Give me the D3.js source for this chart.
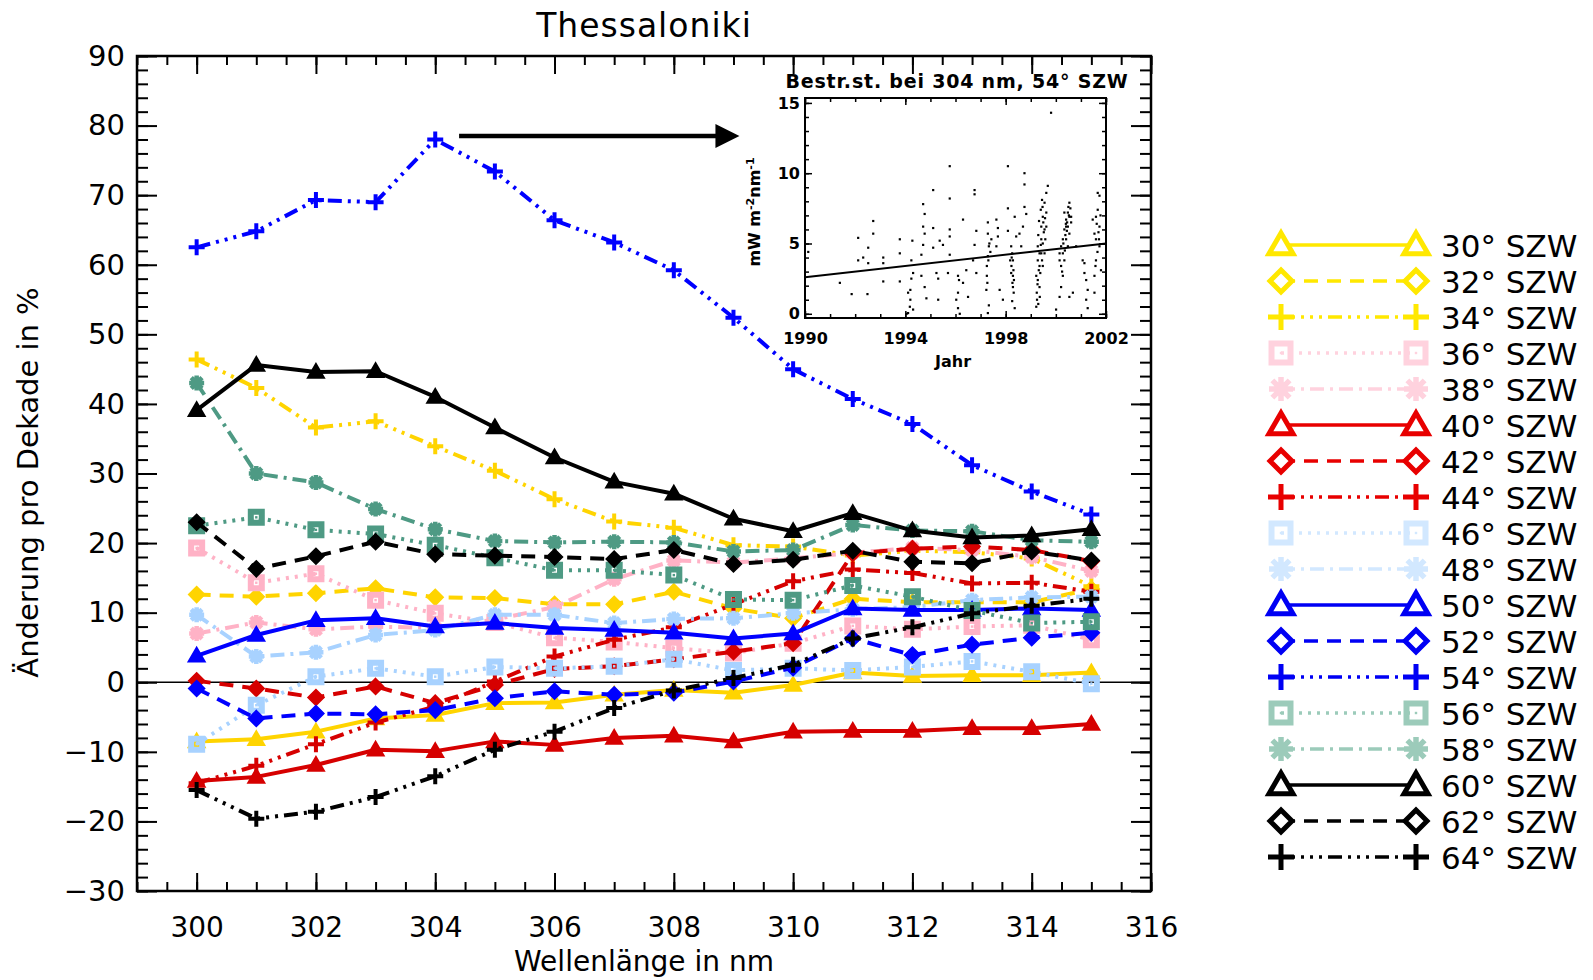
<!DOCTYPE html>
<html>
<head>
<meta charset="utf-8">
<title>Thessaloniki</title>
<script src="https://d3js.org/d3.v7.min.js"></script>
<style>
body { margin: 0; background: #fff; }
text { font-family: "DejaVu Sans", sans-serif; fill: #000; }
</style>
</head>
<body>
<svg id="chart" width="1593" height="980"></svg>
<script>
// ---- data ----
var wavelengths = [300, 301, 302, 303, 304, 305, 306, 307, 308, 309, 310, 311, 312, 313, 314, 315];

var szw30 = [-8.5, -8.2, -7.1, -5.2, -4.7, -3.0, -2.9, -1.8, -1.1, -1.5, -0.4, 1.4, 0.9, 1.0, 1.0, 1.4];
var szw32 = [12.6, 12.3, 12.8, 13.5, 12.2, 12.1, 11.2, 11.2, 13.0, 10.6, 9.2, 12.0, 11.5, 11.5, 11.5, 13.4];
var szw34 = [46.4, 42.3, 36.6, 37.5, 33.9, 30.4, 26.3, 23.1, 22.2, 19.7, 19.5, 18.2, 18.9, 18.7, 17.8, 13.8];
var szw36 = [19.3, 14.3, 15.6, 11.8, 9.9, 8.6, 6.4, 5.8, 4.9, 4.2, 5.6, 8.1, 7.6, 8.0, 8.2, 6.1];
var szw38 = [7.0, 8.6, 7.6, 8.0, 7.8, 9.0, 10.8, 14.8, 17.5, 17.2, 17.8, 18.6, 19.3, 19.0, 18.0, 16.0];
var szw40 = [-14.2, -13.6, -11.9, -9.7, -9.9, -8.5, -9.0, -8.0, -7.7, -8.5, -7.1, -7.0, -7.0, -6.6, -6.6, -6.0];
var szw42 = [0.2, -0.9, -2.2, -0.6, -3.0, -0.4, 1.9, 2.3, 3.3, 4.4, 5.6, 18.5, 19.2, 19.5, 19.0, 17.4];
var szw44 = [-14.5, -12.0, -8.9, -5.8, -3.5, 0.1, 3.7, 6.1, 7.9, 11.2, 14.5, 16.2, 15.7, 14.2, 14.3, 13.0];
var szw46 = [-8.9, -3.3, 0.8, 2.0, 0.8, 2.2, 2.0, 2.3, 3.3, 1.7, 2.0, 1.7, 2.2, 3.0, 1.5, -0.2];
var szw48 = [9.7, 3.7, 4.3, 6.8, 7.5, 9.7, 9.7, 8.5, 9.1, 9.2, 9.9, 10.5, 10.8, 11.8, 12.2, 12.3];
var szw50 = [3.8, 6.8, 8.9, 9.2, 8.0, 8.5, 7.8, 7.5, 7.1, 6.3, 7.0, 10.6, 10.4, 10.4, 10.6, 10.4];
var szw52 = [-0.9, -5.2, -4.5, -4.6, -4.0, -2.3, -1.3, -1.8, -1.5, 0.1, 2.1, 6.3, 3.9, 5.4, 6.4, 7.1];
var szw54 = [62.5, 64.8, 69.3, 69.0, 78.0, 73.4, 66.4, 63.2, 59.2, 52.4, 45.0, 40.7, 37.1, 31.2, 27.4, 24.1];
var szw56 = [22.5, 23.7, 21.9, 21.3, 19.7, 17.9, 16.1, 16.1, 15.4, 11.9, 11.8, 13.9, 12.3, 10.3, 8.5, 8.7];
var szw58 = [43.0, 30.0, 28.7, 24.9, 22.0, 20.3, 20.1, 20.2, 20.1, 18.8, 19.0, 22.6, 21.8, 21.7, 20.4, 20.2];
var szw60 = [39.1, 45.6, 44.6, 44.7, 41.0, 36.6, 32.3, 28.8, 27.1, 23.5, 21.7, 24.3, 21.8, 20.8, 21.1, 22.0];
var szw62 = [23.0, 16.3, 18.1, 20.2, 18.4, 18.2, 18.0, 17.7, 19.0, 17.0, 17.6, 18.9, 17.3, 17.1, 18.8, 17.5];
var szw64 = [-15.5, -19.6, -18.6, -16.5, -13.5, -9.7, -7.1, -3.7, -1.2, 0.6, 2.5, 6.3, 7.9, 9.9, 11.0, 12.0];

var angles = [30, 32, 34, 36, 38, 40, 42, 44, 46, 48, 50, 52, 54, 56, 58, 60, 62, 64];
var allSeries = [szw30, szw32, szw34, szw36, szw38, szw40, szw42, szw44, szw46,
                 szw48, szw50, szw52, szw54, szw56, szw58, szw60, szw62, szw64];

var yTickValues = [-30, -20, -10, 0, 10, 20, 30, 40, 50, 60, 70, 80, 90];
var xTickValues = [300, 302, 304, 306, 308, 310, 312, 314, 316];

// arrow pointing from the 304 nm peak to the inset
var arrowFrom = [304.4, 78.5];
var arrowTo = [309.1, 78.5];

// inset: spectral irradiance at 304 nm, 54 deg SZA
var insetYearTicks = [1990, 1994, 1998, 2002];
var insetValueTicks = [0, 5, 10, 15];
var trendYears = [1990, 2002];
var trendValues = [2.6, 5.0];
var insetPoints = [
  [1990.13, 4.4], [1991.39, 2.2], [1991.86, 1.4], [1992.12, 5.4], [1992.12, 3.8], [1992.32, 4.0],
  [1992.52, 4.7], [1992.52, 3.6], [1992.49, 1.4], [1992.72, 6.6], [1992.72, 5.7], [1993.12, 4.0],
  [1993.12, 3.6], [1993.12, 2.3], [1993.78, 5.3], [1993.78, 4.3], [1993.78, 2.3],
  [1994.05, 0.0], [1994.11, 1.5], [1994.18, 0.5], [1994.20, 1.7], [1994.24, 3.8], [1994.28, 5.2],
  [1994.31, 0.3], [1994.24, 2.5], [1994.11, 0.05], [1994.20, 1.0], [1994.31, 2.9],
  [1994.71, 7.8], [1994.77, 7.1], [1994.71, 6.2], [1994.77, 5.7], [1994.71, 4.9], [1994.77, 1.9],
  [1994.84, 1.1], [1994.64, 4.2], [1994.64, 2.7],
  [1995.11, 8.8], [1995.11, 6.1], [1995.11, 4.7], [1995.24, 2.9], [1995.31, 2.5], [1995.31, 1.0],
  [1995.37, 5.2], [1995.50, 4.9], [1995.77, 10.5], [1995.77, 8.2], [1995.77, 6.0], [1995.77, 5.5],
  [1995.77, 4.2], [1995.70, 2.9],
  [1996.10, 2.7], [1996.10, 1.5], [1996.10, 0.4], [1996.17, 0.0], [1996.14, 2.4], [1996.03, 1.0],
  [1996.30, 6.7], [1996.43, 3.1], [1996.30, 2.2], [1996.50, 1.2], [1996.76, 8.8], [1996.76, 8.5],
  [1996.83, 5.9], [1996.76, 4.9], [1996.70, 3.8], [1996.83, 2.9],
  [1997.29, 6.5], [1997.29, 5.7], [1997.33, 4.8], [1997.29, 4.1], [1997.25, 3.4], [1997.23, 1.7],
  [1997.33, 0.6], [1997.29, 0.05], [1997.39, 4.4], [1997.43, 5.3], [1997.25, 2.7],
  [1997.31, 3.8], [1997.27, 2.2], [1997.35, 5.0],
  [1997.63, 6.7], [1997.69, 6.1], [1997.69, 5.5], [1997.63, 4.8], [1997.76, 1.7], [1997.89, 1.0],
  [1998.09, 10.5], [1998.09, 7.5], [1998.09, 5.9],
  [1998.22, 4.8], [1998.26, 4.3], [1998.29, 3.8], [1998.22, 2.9], [1998.29, 1.9], [1998.32, 1.5],
  [1998.26, 0.9], [1998.36, 0.4], [1998.18, 3.8], [1998.29, 2.7], [1998.23, 3.4], [1998.33, 2.4],
  [1998.27, 2.2], [1998.31, 3.1], [1998.24, 4.0],
  [1998.36, 6.9], [1998.42, 5.5], [1998.55, 5.7], [1998.62, 4.8], [1998.69, 6.2],
  [1998.75, 10.0], [1998.75, 9.2], [1998.75, 7.6], [1998.82, 7.1],
  [1999.22, 0.5], [1999.24, 1.5], [1999.28, 2.4], [1999.35, 3.4], [1999.35, 4.3], [1999.42, 5.3],
  [1999.42, 6.2], [1999.48, 6.9], [1999.55, 7.9], [1999.62, 8.6], [1999.68, 9.1], [1999.28, 3.8],
  [1999.48, 5.0], [1999.55, 6.0], [1999.22, 2.7], [1999.62, 6.2], [1999.42, 4.3], [1999.48, 3.4],
  [1999.35, 1.9], [1999.62, 7.2], [1999.55, 4.3], [1999.28, 4.8], [1999.50, 6.5], [1999.58, 5.3],
  [1999.38, 2.9], [1999.45, 3.8], [1999.25, 1.0],
  [1999.30, 5.6], [1999.33, 6.6], [1999.40, 7.4], [1999.45, 8.1], [1999.52, 5.8], [1999.40, 4.9],
  [1999.32, 3.1], [1999.27, 2.1], [1999.36, 1.2], [1999.30, 0.7], [1999.47, 7.6], [1999.57, 6.8],
  [1999.81, 14.3], [2000.01, 0.3], [2000.15, 1.2], [2000.21, 1.9],
  [2000.15, 4.3], [2000.21, 4.8], [2000.28, 5.3], [2000.34, 6.0], [2000.41, 6.7], [2000.48, 7.2],
  [2000.54, 7.9], [2000.61, 6.5], [2000.54, 5.7], [2000.48, 4.8], [2000.34, 3.8], [2000.21, 3.4],
  [2000.28, 2.7], [2000.15, 3.8], [2000.54, 6.9], [2000.41, 6.2], [2000.34, 7.2], [2000.48, 6.2],
  [2000.28, 4.3], [2000.61, 6.9], [2000.41, 5.3], [2000.68, 1.5], [2000.54, 1.2], [2000.81, 4.8],
  [2000.30, 5.0], [2000.38, 5.6], [2000.45, 6.5], [2000.52, 7.0], [2000.58, 7.5], [2000.44, 5.9],
  [2000.36, 4.5], [2000.25, 3.0], [2000.50, 7.6], [2000.40, 6.4],
  [2001.07, 3.8], [2001.14, 2.9], [2001.21, 2.4], [2001.27, 1.7], [2001.21, 1.0], [2001.27, 0.4],
  [2001.14, 3.6],
  [2001.47, 6.7], [2001.54, 5.7], [2001.60, 5.3], [2001.67, 7.4], [2001.74, 8.4], [2001.67, 8.6],
  [2001.74, 4.8], [2001.60, 3.8], [2001.54, 2.7], [2001.80, 3.1], [2001.54, 1.5], [2001.74, 6.2],
  [2001.60, 6.9], [2001.63, 6.4], [2001.70, 5.8], [2001.78, 7.0], [2001.66, 4.4], [2001.72, 5.3],
  [2001.58, 3.4]
];

// ---- styling ----
var plotColors = { yellow: "#FFD400", pink: "#FFB2C6", red: "#D60000", lblue: "#A8D2FF",
                   blue: "#0000FF", teal: "#4E9A84", black: "#000000" };
var legendColors = { yellow: "#FFE800", pink: "#FFD2DE", red: "#E80000", lblue: "#D2E8FF",
                     blue: "#0000F4", teal: "#9CCBBA", black: "#000000" };
var colorGroup = ["yellow", "yellow", "yellow", "pink", "pink", "red", "red", "red", "lblue",
                  "lblue", "blue", "blue", "blue", "teal", "teal", "black", "black", "black"];
var lineStyle = ["solid", "dash", "dash3dot", "dot", "dashdot", "solid", "dash", "dash3dot", "dot",
                 "dashdot", "solid", "dash", "dash3dot", "dot", "dashdot", "solid", "dash", "dash3dot"];
var markerOf = { solid: "triangle", dash: "diamond", dash3dot: "plus", dot: "square", dashdot: "asterisk" };
var dashOf = { solid: null, dash: "14,9", dash3dot: "14,6,3,6,3,6,3,6", dot: "3,6", dashdot: "14,6,3,6" };

var svg = d3.select("#chart");
var plotL = 137, plotR = 1151, plotT = 56, plotB = 891;

var x = d3.scaleLinear().domain([299, 316]).range([plotL, plotR]);
var y = d3.scaleLinear().domain([-30, 90]).range([plotB, plotT]);

function markerPath(type, s) {
  if (type == "triangle") return "M0," + (-s) + "L" + s + "," + (s * 0.72) + "L" + (-s) + "," + (s * 0.72) + "Z";
  if (type == "diamond") return "M0," + (-s) + "L" + s + ",0L0," + s + "L" + (-s) + ",0Z";
  if (type == "plus") return "M" + (-s) + ",0H" + s + "M0," + (-s) + "V" + s;
  if (type == "square") return "M" + (-s) + "," + (-s) + "H" + s + "V" + s + "H" + (-s) + "Z";
  var d = s * 0.72;
  return "M" + (-s) + ",0H" + s + "M0," + (-s) + "V" + s + "M" + (-d) + "," + (-d) + "L" + d + "," + d +
         "M" + (-d) + "," + d + "L" + d + "," + (-d);
}

function drawMarker(g, type, color, big) {
  if (type == "triangle") {
    g.append("path").attr("d", markerPath(type, big ? 12 : 8))
      .attr("fill", big ? "#fff" : color).attr("stroke", color)
      .attr("stroke-width", big ? 5 : 2).attr("stroke-linejoin", "miter");
  } else if (type == "diamond") {
    g.append("path").attr("d", markerPath(type, big ? 11 : 8))
      .attr("fill", big ? "#fff" : color).attr("stroke", color).attr("stroke-width", big ? 5 : 1.5);
  } else if (type == "plus") {
    g.append("path").attr("d", markerPath(type, big ? 13 : 8))
      .attr("fill", "none").attr("stroke", color).attr("stroke-width", big ? 5 : 4);
  } else if (type == "square") {
    g.append("path").attr("d", markerPath(type, big ? 9.5 : 5.5))
      .attr("fill", "none").attr("stroke", color).attr("stroke-width", 6);
    g.append("rect").attr("x", -1.2).attr("y", -1.2).attr("width", 2.4).attr("height", 2.4).attr("fill", color);
  } else {
    g.append("path").attr("d", markerPath(type, big ? 12 : 7.5))
      .attr("fill", "none").attr("stroke", color).attr("stroke-width", big ? 5.5 : 4.5);
  }
}

// ---- axes (ticks point inward, on all four sides) ----
function styleAxis(g) {
  g.select(".domain").remove();
  g.selectAll(".tick line").attr("stroke", "#000").attr("stroke-width", 2);
}

var minorY = d3.range(-30, 91, 2);
var minorX = d3.range(299, 316.01, 0.5);

svg.append("g").attr("transform", "translate(" + plotL + ",0)")
  .call(d3.axisLeft(y).tickValues(minorY).tickSize(-11).tickFormat("")).call(styleAxis);
svg.append("g").attr("transform", "translate(" + plotR + ",0)")
  .call(d3.axisRight(y).tickValues(minorY).tickSize(-11).tickFormat("")).call(styleAxis);
svg.append("g").attr("transform", "translate(0," + plotB + ")")
  .call(d3.axisBottom(x).tickValues(minorX).tickSize(-9).tickFormat("")).call(styleAxis);
svg.append("g").attr("transform", "translate(0," + plotT + ")")
  .call(d3.axisTop(x).tickValues(minorX).tickSize(-9).tickFormat("")).call(styleAxis);

var yAxis = svg.append("g").attr("transform", "translate(" + plotL + ",0)")
  .call(d3.axisLeft(y).tickValues(yTickValues).tickSize(-20).tickPadding(12)).call(styleAxis);
yAxis.selectAll("text").attr("font-size", 29).attr("font-family", "DejaVu Sans");
svg.append("g").attr("transform", "translate(" + plotR + ",0)")
  .call(d3.axisRight(y).tickValues(yTickValues).tickSize(-20).tickFormat("")).call(styleAxis);

var xAxis = svg.append("g").attr("transform", "translate(0," + plotB + ")")
  .call(d3.axisBottom(x).tickValues(xTickValues).tickSize(-18).tickPadding(26)).call(styleAxis);
xAxis.selectAll("text").attr("font-size", 28).attr("font-family", "DejaVu Sans");
svg.append("g").attr("transform", "translate(0," + plotT + ")")
  .call(d3.axisTop(x).tickValues(xTickValues).tickSize(-18).tickFormat("")).call(styleAxis);

// zero line
svg.append("line").attr("x1", plotL).attr("x2", plotR).attr("y1", y(0)).attr("y2", y(0))
  .attr("stroke", "#000").attr("stroke-width", 1.5);

// ---- series ----
var line = d3.line().x(function(d) { return x(d.w); }).y(function(d) { return y(d.v); });

allSeries.forEach(function(vals, i) {
  var pts = wavelengths.map(function(w, j) { return { w: w, v: vals[j] }; });
  var col = plotColors[colorGroup[i]];
  var st = lineStyle[i];
  svg.append("path").datum(pts).attr("d", line)
    .attr("fill", "none").attr("stroke", col).attr("stroke-width", 4)
    .attr("stroke-dasharray", dashOf[st]).attr("stroke-linejoin", "round");
  pts.forEach(function(p) {
    var g = svg.append("g").attr("transform", "translate(" + x(p.w) + "," + y(p.v) + ")");
    drawMarker(g, markerOf[st], col, false);
  });
});

// frame
svg.append("rect").attr("x", plotL).attr("y", plotT).attr("width", plotR - plotL).attr("height", plotB - plotT)
  .attr("fill", "none").attr("stroke", "#000").attr("stroke-width", 2.5);

// arrow
var ax1 = x(arrowFrom[0]), ax2 = x(arrowTo[0]), ay = y(arrowFrom[1]);
svg.append("line").attr("x1", ax1).attr("x2", ax2 - 20).attr("y1", ay).attr("y2", ay)
  .attr("stroke", "#000").attr("stroke-width", 4.5);
svg.append("path").attr("d", "M" + ax2 + "," + ay + "L" + (ax2 - 24) + "," + (ay - 12) + "L" + (ax2 - 24) + "," + (ay + 12) + "Z")
  .attr("fill", "#000");

// ---- titles ----
svg.append("text").attr("x", (plotL + plotR) / 2).attr("y", 37).attr("text-anchor", "middle")
  .attr("font-size", 33).attr("letter-spacing", 1).text("Thessaloniki");
svg.append("text").attr("x", (plotL + plotR) / 2).attr("y", 971).attr("text-anchor", "middle")
  .attr("font-size", 28).text("Wellenlänge in nm");
svg.append("text").attr("transform", "translate(38," + ((plotT + plotB) / 2 + 9) + ") rotate(-90)")
  .attr("text-anchor", "middle").attr("font-size", 29).text("Änderung pro Dekade in %");

// ---- inset ----
var ix = d3.scaleLinear().domain([1990, 2002]).range([805, 1106]);
var iy = d3.scaleLinear().domain([-0.3, 15.35]).range([318, 98]);
var inset = svg.append("g");
inset.append("rect").attr("x", 805).attr("y", 98).attr("width", 301).attr("height", 220).attr("fill", "#fff");

inset.selectAll(".pt").data(insetPoints).enter().append("rect").attr("class", "pt")
  .attr("x", function(d) { return ix(d[0]) - 1.1; }).attr("y", function(d) { return iy(d[1]) - 1.1; })
  .attr("width", 2.2).attr("height", 2.2).attr("fill", "#000");

inset.append("path").datum(trendYears.map(function(t, i) { return [t, trendValues[i]]; }))
  .attr("d", d3.line().x(function(d) { return ix(d[0]); }).y(function(d) { return iy(d[1]); }))
  .attr("stroke", "#000").attr("stroke-width", 2).attr("fill", "none");

function styleInsetAxis(g) {
  g.select(".domain").remove();
  g.selectAll(".tick line").attr("stroke", "#000").attr("stroke-width", 1.5);
  g.selectAll("text").attr("font-size", 16).attr("font-weight", "bold").attr("font-family", "DejaVu Sans");
}
var minorIY = d3.range(0, 15.1, 1);
var minorIX = d3.range(1990, 2002.1, 1);
inset.append("g").attr("transform", "translate(805,0)")
  .call(d3.axisLeft(iy).tickValues(minorIY).tickSize(-4).tickFormat("")).call(styleInsetAxis);
inset.append("g").attr("transform", "translate(1106,0)")
  .call(d3.axisRight(iy).tickValues(minorIY).tickSize(-4).tickFormat("")).call(styleInsetAxis);
inset.append("g").attr("transform", "translate(0,318)")
  .call(d3.axisBottom(ix).tickValues(minorIX).tickSize(-4).tickFormat("")).call(styleInsetAxis);
inset.append("g").attr("transform", "translate(0,98)")
  .call(d3.axisTop(ix).tickValues(minorIX).tickSize(-4).tickFormat("")).call(styleInsetAxis);
inset.append("g").attr("transform", "translate(805,0)")
  .call(d3.axisLeft(iy).tickValues(insetValueTicks).tickSize(-7).tickPadding(5)).call(styleInsetAxis);
inset.append("g").attr("transform", "translate(1106,0)")
  .call(d3.axisRight(iy).tickValues(insetValueTicks).tickSize(-7).tickFormat("")).call(styleInsetAxis);
inset.append("g").attr("transform", "translate(0,318)")
  .call(d3.axisBottom(ix).tickValues(insetYearTicks).tickSize(-7).tickPadding(15).tickFormat(d3.format("d"))).call(styleInsetAxis);
inset.append("g").attr("transform", "translate(0,98)")
  .call(d3.axisTop(ix).tickValues(insetYearTicks).tickSize(-7).tickFormat("")).call(styleInsetAxis);
inset.append("rect").attr("x", 805).attr("y", 98).attr("width", 301).attr("height", 220)
  .attr("fill", "none").attr("stroke", "#000").attr("stroke-width", 2);

inset.append("text").attr("x", 957).attr("y", 88).attr("text-anchor", "middle")
  .attr("font-size", 19).attr("font-weight", "bold").attr("letter-spacing", 0.8)
  .text("Bestr.st. bei 304 nm, 54° SZW");
inset.append("text").attr("x", 953).attr("y", 367).attr("text-anchor", "middle")
  .attr("font-size", 16).attr("font-weight", "bold").text("Jahr");
var yl = inset.append("text").attr("transform", "translate(760,212) rotate(-90)")
  .attr("text-anchor", "middle").attr("font-size", 16).attr("font-weight", "bold");
yl.append("tspan").text("mW m");
yl.append("tspan").attr("baseline-shift", "super").attr("font-size", 11).text("-2");
yl.append("tspan").text("nm");
yl.append("tspan").attr("baseline-shift", "super").attr("font-size", 11).text("-1");

// ---- legend ----
var row = d3.scaleLinear().domain([0, 17]).range([245, 857]);
angles.forEach(function(a, i) {
  var col = legendColors[colorGroup[i]];
  var st = lineStyle[i];
  var ry = row(i);
  svg.append("line").attr("x1", 1281).attr("x2", 1416).attr("y1", ry).attr("y2", ry)
    .attr("stroke", col).attr("stroke-width", 3.5).attr("stroke-dasharray", dashOf[st]);
  [1281, 1416].forEach(function(mx) {
    var g = svg.append("g").attr("transform", "translate(" + mx + "," + ry + ")");
    drawMarker(g, markerOf[st], col, true);
  });
  svg.append("text").attr("x", 1441).attr("y", ry + 12).attr("font-size", 31).text(a + "° SZW");
});
</script>
</body>
</html>
